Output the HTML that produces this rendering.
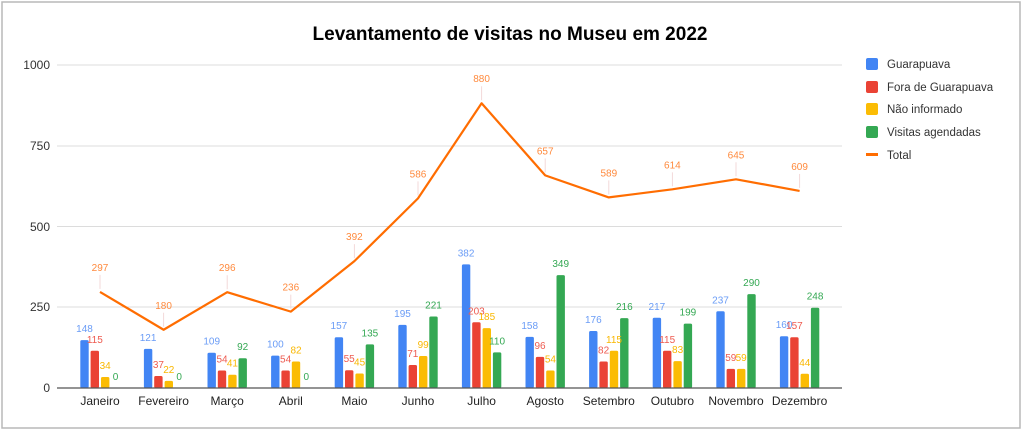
<!DOCTYPE html>
<html><head><meta charset="utf-8"><style>
html,body{margin:0;padding:0;background:#fff}
svg{display:block;font-family:"Liberation Sans",Arial,sans-serif}
</style></head><body>
<svg id="s" width="1024" height="431" viewBox="0 0 1024 431">
<rect x="0" y="0" width="1024" height="431" fill="#fff"/>
<rect x="2" y="2" width="1018" height="426" fill="#fff" stroke="#b8b8b8" stroke-width="1.5"/>
<text x="510" y="40" text-anchor="middle" font-size="19" font-weight="bold" fill="#000">Levantamento de visitas no Museu em 2022</text>
<g stroke="#dcdcdc" stroke-width="1">
<line x1="57" x2="842" y1="65" y2="65"/><line x1="57" x2="842" y1="146" y2="146"/>
<line x1="57" x2="842" y1="226.5" y2="226.5"/><line x1="57" x2="842" y1="307" y2="307"/>
</g>
<g font-size="12" fill="#333" text-anchor="end">
<text x="50" y="69">1000</text><text x="50" y="150">750</text><text x="50" y="231">500</text><text x="50" y="311">250</text><text x="50" y="392">0</text>
</g>
<g id="bars"></g>
<line x1="57" x2="842" y1="388" y2="388" stroke="#555" stroke-width="1.2"/>
<g id="leaders" stroke="#f3d9d9" stroke-width="1"></g>
<polyline id="line" fill="none" stroke="#ff6d01" stroke-width="2.2" stroke-linejoin="round"/>
<g font-size="12" fill="#222" text-anchor="middle" id="xl">
<text>Janeiro</text><text>Fevereiro</text><text>Março</text><text>Abril</text><text>Maio</text><text>Junho</text><text>Julho</text><text>Agosto</text><text>Setembro</text><text>Outubro</text><text>Novembro</text><text>Dezembro</text>
</g>
<g font-size="10" text-anchor="middle">
<g id="lG" fill="#6a9cf6"><text>148</text><text>121</text><text>109</text><text>100</text><text>157</text><text>195</text><text>382</text><text>158</text><text>176</text><text>217</text><text>237</text><text>160</text></g>
<g id="lF" fill="#ee5b50"><text>115</text><text>37</text><text>54</text><text>54</text><text>55</text><text>71</text><text>203</text><text>96</text><text>82</text><text>115</text><text>59</text><text>157</text></g>
<g id="lN" fill="#f9b700"><text>34</text><text>22</text><text>41</text><text>82</text><text>45</text><text>99</text><text>185</text><text>54</text><text>115</text><text>83</text><text>59</text><text>44</text></g>
<g id="lV" fill="#34a853"><text>0</text><text>0</text><text>92</text><text>0</text><text>135</text><text>221</text><text>110</text><text>349</text><text>216</text><text>199</text><text>290</text><text>248</text></g>
<g id="lT" fill="#ff8a3d"><text>297</text><text>180</text><text>296</text><text>236</text><text>392</text><text>586</text><text>880</text><text>657</text><text>589</text><text>614</text><text>645</text><text>609</text></g>
</g>
<g font-size="11.5" fill="#333">
<rect x="866" y="58" width="12" height="12" rx="2" fill="#4285f4"/><text x="887" y="68">Guarapuava</text>
<rect x="866" y="81" width="12" height="12" rx="2" fill="#ea4335"/><text x="887" y="91">Fora de Guarapuava</text>
<rect x="866" y="103" width="12" height="12" rx="2" fill="#fbbc04"/><text x="887" y="113">Não informado</text>
<rect x="866" y="126" width="12" height="12" rx="2" fill="#34a853"/><text x="887" y="136">Visitas agendadas</text>
<rect x="866" y="153" width="12" height="3" fill="#ff6d01"/><text x="887" y="159">Total</text>
</g>
</svg>
<script>
var D={G:[148,121,109,100,157,195,382,158,176,217,237,160],F:[115,37,54,54,55,71,203,96,82,115,59,157],N:[34,22,41,82,45,99,185,54,115,83,59,44],V:[0,0,92,0,135,221,110,349,216,199,290,248],T:[297,180,296,236,392,586,880,657,589,614,645,609]};
var C={G:"#4285f4",F:"#ea4335",N:"#fbbc04",V:"#34a853"};
var off={G:-15.5,F:-5.2,N:5.2,V:15.5};
function cx(i){return 100+i*63.6}
function y(v){return 388-v*0.3236}
var ns="http://www.w3.org/2000/svg",bars=document.getElementById("bars");
["G","F","N","V"].forEach(function(k){
 var labs=document.getElementById("l"+k).children;
 D[k].forEach(function(v,i){
  var x=cx(i)+off[k];
  if(v>0){var r=document.createElementNS(ns,"rect");r.setAttribute("x",x-4.2);r.setAttribute("y",y(v));r.setAttribute("width",8.4);r.setAttribute("height",388-y(v));r.setAttribute("rx",1.5);r.setAttribute("fill",C[k]);bars.appendChild(r);}
  labs[i].setAttribute("x",x);labs[i].setAttribute("y",y(v)-8);
 });
});
var pts=[],lT=document.getElementById("lT").children,ld=document.getElementById("leaders");
D.T.forEach(function(v,i){pts.push(cx(i)+","+y(v));lT[i].setAttribute("x",cx(i));lT[i].setAttribute("y",y(v)-21);
 var l=document.createElementNS(ns,"line");l.setAttribute("x1",cx(i));l.setAttribute("x2",cx(i));l.setAttribute("y1",y(v)-17);l.setAttribute("y2",y(v)-3);ld.appendChild(l);});
document.getElementById("line").setAttribute("points",pts.join(" "));
var xl=document.getElementById("xl").children;
for(var i=0;i<12;i++){xl[i].setAttribute("x",cx(i));xl[i].setAttribute("y",405);}
</script>
</body></html>
